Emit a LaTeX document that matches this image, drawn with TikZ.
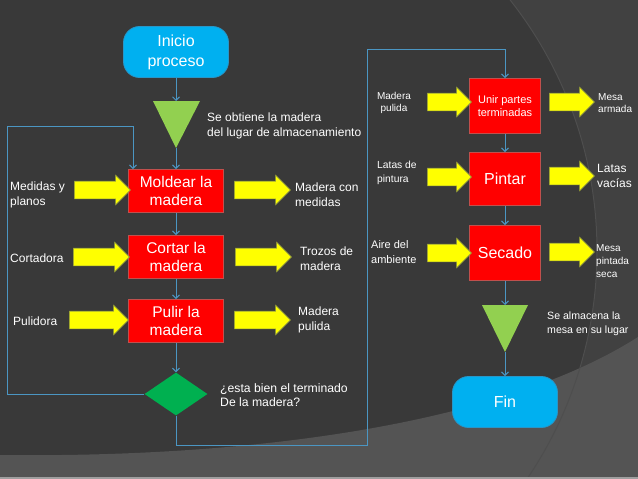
\documentclass[tikz,border=0pt]{standalone}
\usepackage{fontspec}
\setmainfont{Liberation Sans}
\usepackage{tikz}
\usetikzlibrary{shapes.geometric, shapes.arrows, arrows.meta, calc}
\definecolor{fondo}{RGB}{57,57,57}
\definecolor{fondoclaro}{RGB}{65,65,65}
\definecolor{fondobajo}{RGB}{84,84,84}
\definecolor{arco}{RGB}{78,78,78}
\definecolor{rojo}{RGB}{255,0,0}
\definecolor{rojoborde}{RGB}{192,80,77}
\definecolor{cian}{RGB}{0,176,240}
\definecolor{cianborde}{RGB}{40,150,200}
\definecolor{verdeclaro}{RGB}{146,208,80}
\definecolor{verde}{RGB}{0,176,80}
\definecolor{azul}{RGB}{75,150,195}
\definecolor{amarillo}{RGB}{255,255,0}
\definecolor{amarilloborde}{RGB}{150,160,60}
\tikzset{
  proceso/.style={rectangle, draw=rojoborde, fill=rojo, text=white,
    minimum width=95pt, minimum height=43pt, align=center,
    inner sep=0pt, line width=0.8pt, font=\fontsize{15.5}{18}\selectfont},
  terminal/.style={rectangle, rounded corners=16pt, draw=cianborde, fill=cian,
    text=white, minimum width=105pt, minimum height=51pt, align=center,
    inner sep=0pt, line width=0.8pt, font=\fontsize{16}{20}\selectfont},
  decision/.style={diamond, fill=verde, minimum width=63pt,
    minimum height=43pt, inner sep=0pt},
  almacen/.style={fill=verdeclaro},
  flecha/.style={single arrow, fill=amarillo, draw=amarilloborde,
    line width=0.6pt, inner xsep=0pt, inner ysep=8.5pt, minimum height=56pt,
    single arrow head extend=6pt},
  conector/.style={-{Straight Barb[length=3.5pt,width=7pt]}, line width=1pt, color=azul},
  etiqueta/.style={text=white, align=left, anchor=west, inner sep=0pt,
    font=\fontsize{12}{15}\selectfont}
}
\begin{document}
\begin{tikzpicture}[x=1pt, y=-1pt]
  \useasboundingbox (0,0) rectangle (638,479);
  % fondo de la diapositiva
  \fill[fondoclaro] (0,0) rectangle (638,479);
  \begin{scope}
    \clip (0,0) rectangle (638,479);
    \fill[fondo] (191,251) circle (406);
    \fill[fondobajo] (0,455) .. controls (250,458) and (500,425) .. (638,337)
      -- (638,479) -- (0,479) -- cycle;
    \draw[arco, line width=1pt] (191,251) circle (406);
  \end{scope}
  \fill[gray!75] (0,477) rectangle (638,479);

  % columna izquierda
  \node[terminal] (inicio) at (176,52) {Inicio\\proceso};
  \fill[almacen] (153,101) -- (200,101) -- (176,148) -- cycle;
  \coordinate (alm1top) at (176,101);
  \coordinate (alm1bot) at (176,148);
  \node[etiqueta] (txtAlm1) at (207,126) {Se obtiene la madera\\del lugar de almacenamiento};

  \node[proceso] (moldear) at (176,191) {Moldear la\\madera};
  \node[proceso] (cortar) at (176,257) {Cortar la\\madera};
  \node[proceso] (pulir) at (176,321) {Pulir la\\madera};
  \node[decision] (calidad) at (176,394) {};
  \node[etiqueta, font=\fontsize{12.2}{14.5}\selectfont] (txtCalidad) at (220,395)
    {¿esta bien el terminado\\De la madera?};

  \node[flecha] (entMoldear) at (98,190) {};
  \node[flecha] (salMoldear) at (258,190) {};
  \node[flecha] (entCortar) at (97,257) {};
  \node[flecha] (salCortar) at (259,257) {};
  \node[flecha, minimum height=59pt] (entPulir) at (94.5,320) {};
  \node[flecha] (salPulir) at (258,320) {};

  \node[etiqueta] (txtMedidas) at (10,195) {Medidas y\\planos};
  \node[etiqueta] (txtCortadora) at (10,258) {Cortadora};
  \node[etiqueta] (txtPulidora) at (13,321) {Pulidora};
  \node[etiqueta] (txtMedidasSal) at (295,195) {Madera con\\medidas};
  \node[etiqueta] (txtTrozos) at (300,259) {Trozos de\\madera};
  \node[etiqueta] (txtPulida) at (298,320) {Madera\\pulida};

  % columna derecha
  \node[proceso, minimum width=71pt, minimum height=55pt,
    font=\fontsize{11}{13}\selectfont] (unir) at (505,106) {Unir partes\\terminadas};
  \node[proceso, minimum width=71pt, minimum height=53pt,
    font=\fontsize{16}{19}\selectfont] (pintar) at (505,179) {Pintar};
  \node[proceso, minimum width=71pt, minimum height=55pt,
    font=\fontsize{16}{19}\selectfont] (secado) at (505,253) {Secado};
  \fill[almacen] (482,305) -- (528,305) -- (505,352) -- cycle;
  \coordinate (alm2top) at (505,305);
  \coordinate (alm2bot) at (505,352);
  \node[terminal] (fin) at (505,402) {Fin};

  \node[flecha, minimum height=44pt] (entUnir) at (445,102) {};
  \node[flecha, minimum height=45pt] (salUnir) at (567.5,102) {};
  \node[flecha, minimum height=44pt] (entPintar) at (445,177) {};
  \node[flecha, minimum height=45pt] (salPintar) at (567.5,176) {};
  \node[flecha, minimum height=44pt] (entSecado) at (445,253) {};
  \node[flecha, minimum height=45pt] (salSecado) at (567.5,252) {};

  \node[etiqueta, anchor=center, align=center, font=\fontsize{10}{12.5}\selectfont]
    (txtPulida2) at (394,103) {Madera\\pulida};
  \node[etiqueta, font=\fontsize{10}{12.5}\selectfont] (txtArmada) at (598,103) {Mesa\\armada};
  \node[etiqueta, font=\fontsize{10.3}{14.5}\selectfont] (txtLatas) at (377,173) {Latas de\\pintura};
  \node[etiqueta, font=\fontsize{12}{15}\selectfont] (txtVacias) at (597,176) {Latas\\vacías};
  \node[etiqueta, font=\fontsize{11}{14.5}\selectfont] (txtAire) at (371,252) {Aire del\\ambiente};
  \node[etiqueta, font=\fontsize{10}{13}\selectfont] (txtSeca) at (596,261) {Mesa\\pintada\\seca};
  \node[etiqueta, font=\fontsize{10.6}{13.5}\selectfont] (txtAlm2) at (547,324)
    {Se almacena la\\mesa en su lugar};

  % conectores
  \coordinate (retA) at (7,126);
  \coordinate (retB) at (367,445);
  \coordinate (retC) at (367,49);
  \draw[conector] (inicio.south) -- (alm1top);
  \draw[conector] (alm1bot) -- (moldear.north);
  \draw[conector] (moldear) -- (cortar);
  \draw[conector] (cortar) -- (pulir);
  \draw[conector] (pulir) -- (calidad);
  \draw[conector] (calidad.west) -| (retA) -| ([xshift=-43pt]moldear.north);
  \draw[conector] (calidad.south) |- (retB) -- (retC) -| (unir.north);
  \draw[conector] (unir) -- (pintar);
  \draw[conector] (pintar) -- (secado);
  \draw[conector] (secado) -- (alm2top);
  \draw[conector] (alm2bot) -- (fin);
\end{tikzpicture}
\end{document}
